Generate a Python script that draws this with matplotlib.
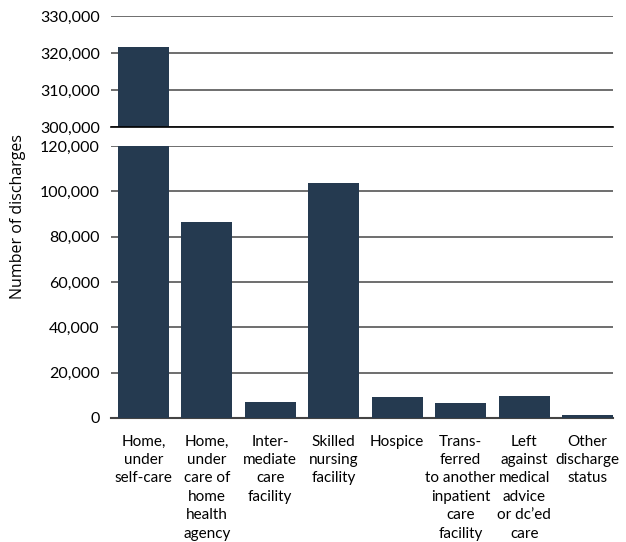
import matplotlib
matplotlib.use("Agg")
import matplotlib.pyplot as plt
from matplotlib.ticker import FuncFormatter

# discharge status categories and counts
categories = [
    "Home,\nunder\nself-care",
    "Home,\nunder\ncare of\nhome\nhealth\nagency",
    "Inter-\nmediate\ncare\nfacility",
    "Skilled\nnursing\nfacility",
    "Hospice",
    "Trans-\nferred\nto another\ninpatient\ncare\nfacility",
    "Left\nagainst\nmedical\nadvice\nor dc\u2019ed\ncare",
    "Other\ndischarge\nstatus",
]
discharges = [321500, 86400, 6850, 103600, 9200, 6400, 9650, 1150]

top_ticks = [300000, 310000, 320000, 330000]
bottom_ticks = [0, 20000, 40000, 60000, 80000, 100000, 120000]

bar_color = "#253a50"
grid_color = "#555555"
tick_font = "Lato"

fig = plt.figure(figsize=(6.26, 5.42), dpi=100)
ax_top = fig.add_axes([0.1773, 0.7657, 0.8019, 0.2048])
ax_bot = fig.add_axes([0.1773, 0.2288, 0.8019, 0.5018])

x = list(range(len(categories)))
fmt = FuncFormatter(lambda v, p: f"{int(v):,}")

for ax in (ax_top, ax_bot):
    ax.bar(x, discharges, width=0.8, color=bar_color, zorder=3)
    ax.set_xlim(-0.51, 7.4)
    for s in ("top", "right", "left"):
        ax.spines[s].set_visible(False)
    ax.yaxis.set_major_formatter(fmt)
    ax.tick_params(axis="y", length=0, pad=8, labelsize=11.5)
    ax.grid(axis="y", color=grid_color, linewidth=1.2, zorder=1)

ax_top.set_ylim(300000, 330000)
ax_top.set_yticks(top_ticks)
ax_top.set_xticks([])
ax_top.spines["bottom"].set_color("black")
ax_top.spines["bottom"].set_linewidth(1.2)
ax_top.spines["bottom"].set_zorder(4)

ax_bot.set_ylim(0, 120000)
ax_bot.set_yticks(bottom_ticks)
ax_bot.spines["bottom"].set_color("#444444")
ax_bot.spines["bottom"].set_linewidth(1.5)
ax_bot.set_xticks(x)
ax_bot.set_xticklabels(categories, fontfamily=tick_font, fontsize=11,
                       linespacing=1.4)
ax_bot.tick_params(axis="x", length=0, pad=12)

for lab in ax_top.get_yticklabels() + ax_bot.get_yticklabels():
    lab.set_fontfamily(tick_font)

fig.text(18 / 626, 0.6, "Number of discharges", rotation=90,
         fontfamily="Open Sans", fontsize=11.5, ha="center", va="center")

fig.savefig("out.png", dpi=100)
